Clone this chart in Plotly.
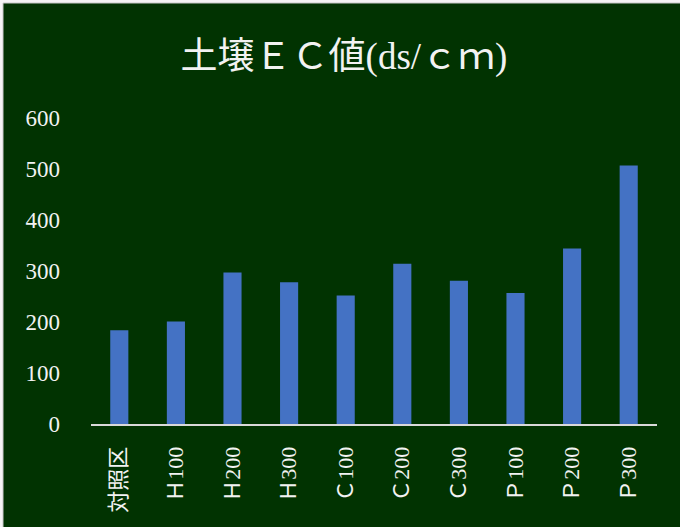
import plotly.graph_objects as go

categories = ["対照区", "Ｈ100", "Ｈ200", "Ｈ300", "Ｃ100", "Ｃ200", "Ｃ300", "Ｐ100", "Ｐ200", "Ｐ300"]
values = [184, 201, 297, 278, 252, 314, 281, 257, 344, 507]
y_ticks = [0, 100, 200, 300, 400, 500, 600]

BG = "#013301"
TXT = "#f2f2f2"
SERIF = "Liberation Serif, Times New Roman, Noto Sans CJK JP, serif"

fig = go.Figure()
fig.add_trace(go.Bar(
    x=categories, y=values,
    marker=dict(color="#4472C4", line=dict(width=0)),
))

W, H = 680, 527
ml, mr, mt, mb = 91, 23, 118, 103
pw, ph = W - ml - mr, H - mt - mb

def px_x(p):
    return (p - ml) / pw

def px_y(p):
    return 1 - (p - mt) / ph

fig.update_layout(
    width=W, height=H,
    margin=dict(l=ml, r=mr, t=mt, b=mb, pad=0),
    paper_bgcolor="#f4f4f4",
    plot_bgcolor=BG,
    bargap=0.68,
    showlegend=False,
    title=dict(
        text="土壌ＥＣ値(ds/ｃｍ)",
        x=344 / W, xanchor="center", xref="container",
        y=1 - 56 / H, yanchor="middle", yref="container",
        font=dict(family=SERIF, size=37, color=TXT),
    ),
    shapes=[dict(
        type="rect", xref="paper", yref="paper", layer="below",
        x0=px_x(3), x1=px_x(W + 10), y0=px_y(H + 10), y1=px_y(3),
        fillcolor=BG, line=dict(color="#c8c8c8", width=1),
    )],
    xaxis=dict(
        type="category",
        tickangle=-90,
        tickfont=dict(family=SERIF, size=22, color=TXT),
        showline=True, linecolor="#d9d9d9", linewidth=2,
        showgrid=False, zeroline=False,
        ticks="", ticklabelstandoff=12,
    ),
    yaxis=dict(
        range=[0, 600],
        tickvals=y_ticks,
        ticktext=[str(v) for v in y_ticks],
        tickfont=dict(family=SERIF, size=23, color=TXT),
        showline=False, showgrid=False, zeroline=False,
        ticks="", ticklabelstandoff=30,
    ),
)

fig.write_html("out.html")
